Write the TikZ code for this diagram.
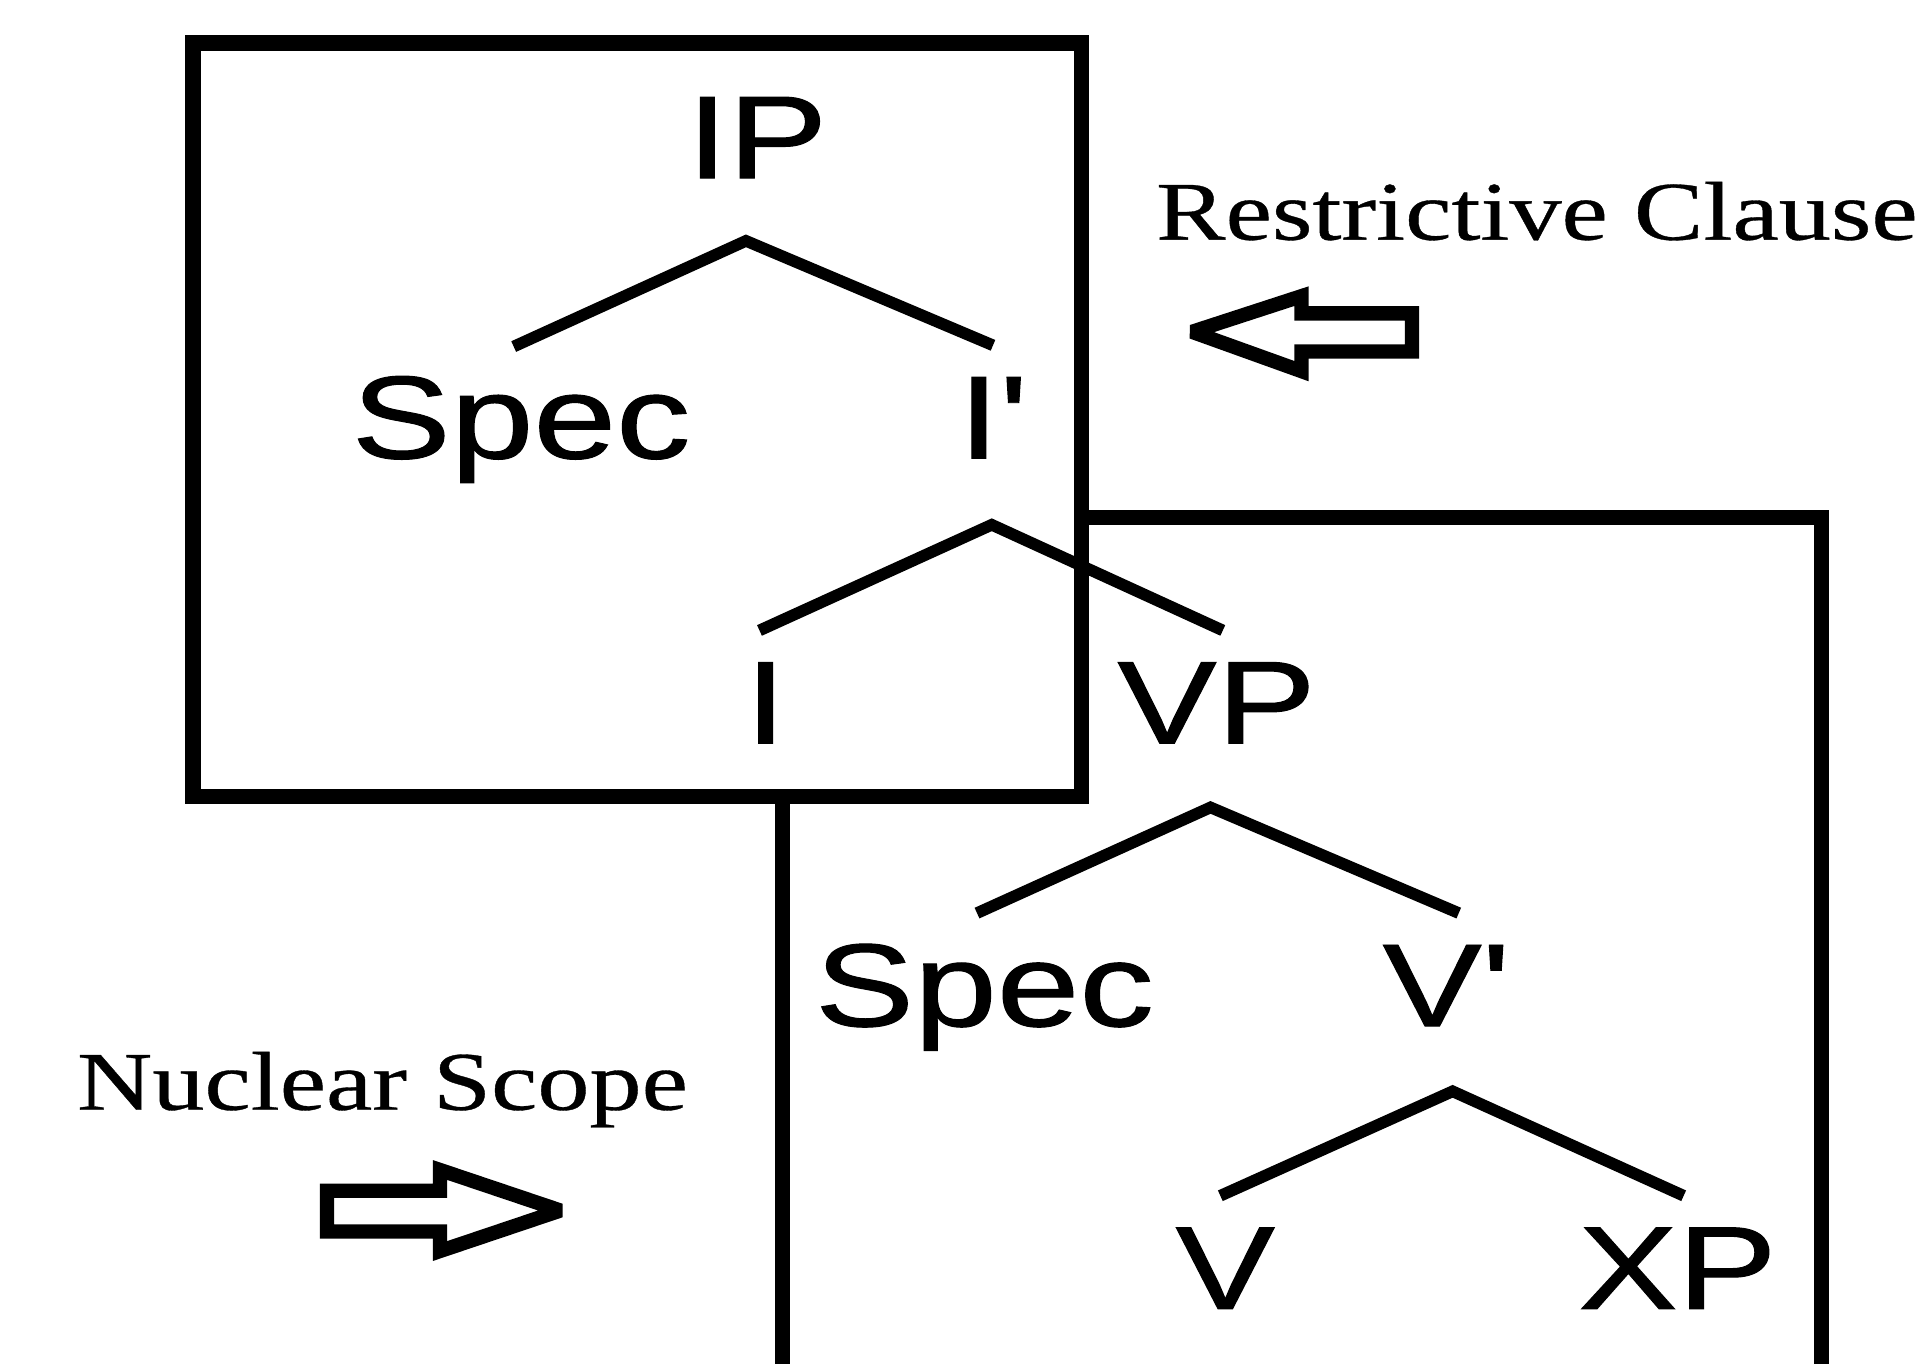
\documentclass[tikz,border=0pt]{standalone}
\usepackage{fontspec}
\setmainfont{Liberation Serif}[FakeBold=0.4]
\newfontfamily\arialf{Liberation Sans}[FakeBold=0.8]
\newcommand\wide[1]{\scalebox{1.26}[1]{#1}}
\newcommand\wideser[1]{\scalebox{1.25}[1]{#1}}
\tikzset{
  lab/.style={font=\arialf\fontsize{27.3}{30}\selectfont, inner sep=0pt, anchor=base},
  capt/.style={font=\fontsize{19.3}{22}\selectfont, inner sep=0pt, anchor=base west},
  branch/.style={line width=2.7pt},
  frame/.style={line width=3.5pt, line join=miter},
  blockarrow/.style={line width=3.3pt, line join=miter, miter limit=2},
}
\begin{document}
\begin{tikzpicture}[x=0.01cm, y=-0.01cm]
\useasboundingbox (0,0) rectangle (1568,1110);
% boxes
\draw[frame] (157,35) rectangle (880,648);
\draw[frame] (880,421) -- (1482,421) -- (1482,1110);
\draw[frame] (637,648) -- (637,1110);
% labels
\node[lab] (IP) at (616,145) {\wide{IP}};
\node[lab] (spec1) at (424,373) {\wide{Spec}};
\node[lab] (Ibar) at (808,373) {\wide{I'}};
\node[lab] (I) at (623,605) {\wide{I}};
\node[lab] (VP) at (990,605) {\wide{VP}};
\node[lab] (spec2) at (801,835) {\wide{Spec}};
\node[lab] (Vbar) at (1177,835) {\wide{V'}};
\node[lab] (V) at (997,1065) {\wide{V}};
\node[lab] (XP) at (1365,1065) {\wide{XP}};
% branch points
\coordinate (ipA) at (607,196);
\coordinate (ipL) at (418,282);
\coordinate (ipR) at (808,281);
\coordinate (ibA) at (807,427);
\coordinate (ibL) at (618,513);
\coordinate (ibR) at (995,513);
\coordinate (vpA) at (985,657);
\coordinate (vpL) at (795,743);
\coordinate (vpR) at (1187,743);
\coordinate (vbA) at (1182,888);
\coordinate (vbL) at (993,973);
\coordinate (vbR) at (1370,973);
\draw[branch] (ipL) -- (ipA) -- (ipR);
\draw[branch] (ibL) -- (ibA) -- (ibR);
\draw[branch] (vpL) -- (vpA) -- (vpR);
\draw[branch] (vbL) -- (vbA) -- (vbR);
% captions
\node[capt] (rc) at (940,195) {\wideser{Restrictive Clause}};
\node[capt] (ns) at (62,903) {\wideser{Nuclear Scope}};
% block arrows
\draw[blockarrow] (970,270) -- (1059,241) -- (1059,255) -- (1149,255) -- (1149,286) -- (1059,286) -- (1059,302) -- cycle;
\draw[blockarrow] (266,969) -- (358,969) -- (358,952) -- (456,985) -- (358,1018) -- (358,1002) -- (266,1002) -- cycle;
\end{tikzpicture}
\end{document}
